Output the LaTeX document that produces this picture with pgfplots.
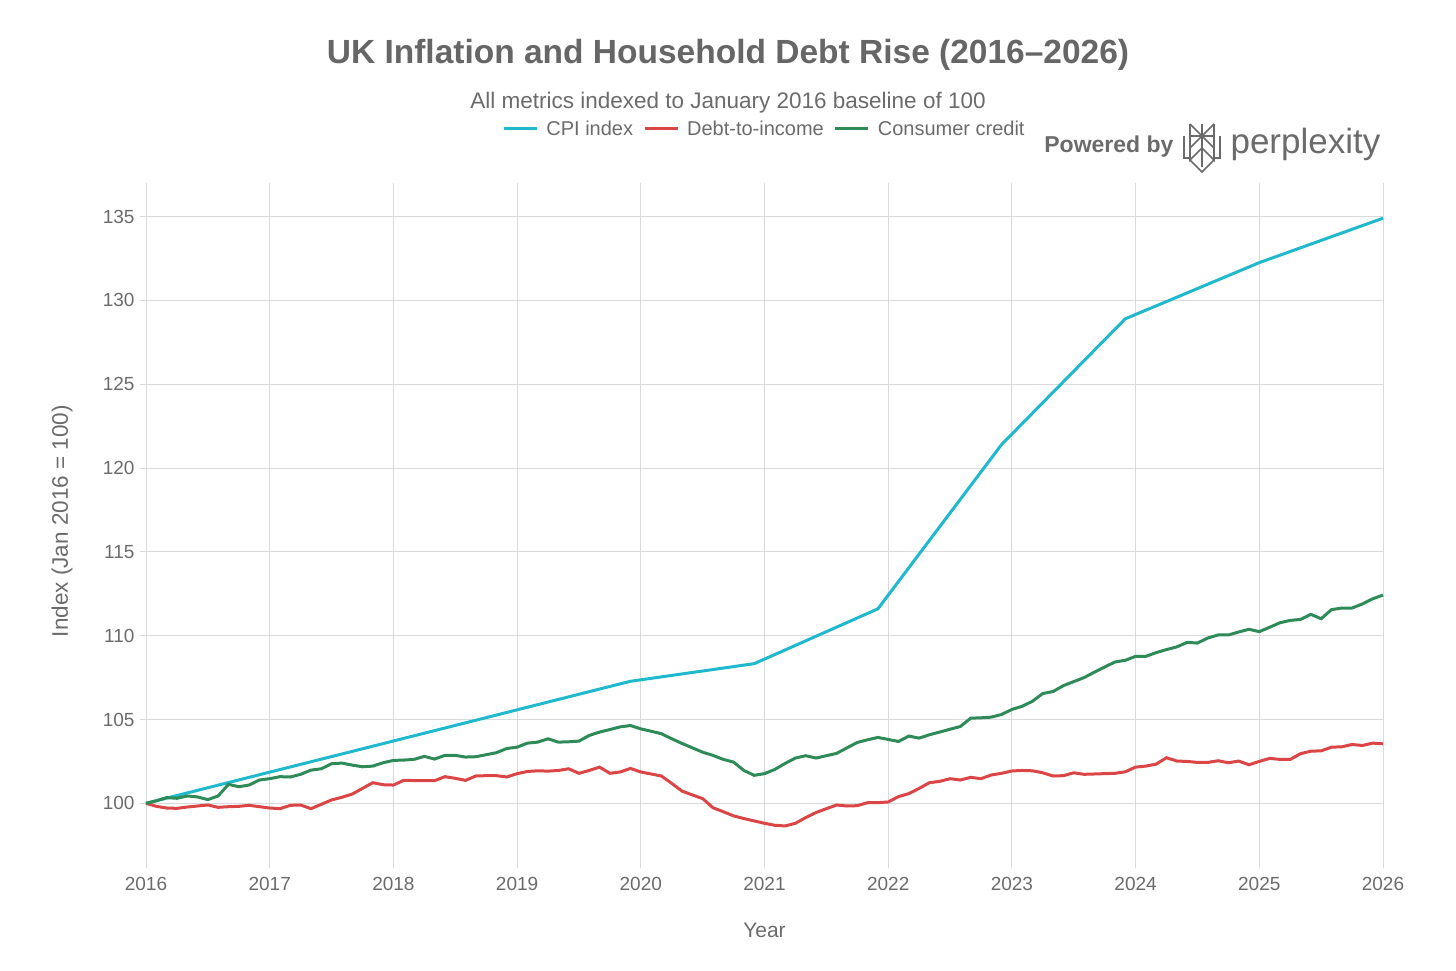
\documentclass[border=0pt]{standalone}
\usepackage{pgfplots}
\pgfplotsset{compat=1.18}
\usepackage{fontspec}
\setmainfont{Liberation Sans}
\definecolor{cpi}{HTML}{1FB8CD}
\definecolor{dti}{HTML}{DB4545}
\definecolor{ccr}{HTML}{2E8B57}
\definecolor{txt}{HTML}{6B6B6B}
\definecolor{ttl}{HTML}{666666}
\definecolor{grd}{HTML}{DADADA}
\begin{document}
\begin{tikzpicture}[x=1pt,y=1pt]
\path[use as bounding box] (0,0) rectangle (1456,970);
\begin{axis}[
  at={(146pt,108pt)}, anchor=south west,
  width=1237pt, height=679pt, scale only axis,
  xmin=0, xmax=120, ymin=96.5, ymax=137,
  xtick={0,12,...,120},
  xticklabels={2016,2017,2018,2019,2020,2021,2022,2023,2024,2025,2026},
  ytick={100,105,...,135},
  xtick pos=bottom, ytick pos=left,
  tick align=outside, major tick length=6pt,
  tick style={grd, line width=1pt},
  grid=major, grid style={grd, line width=1pt},
  axis line style={draw=none},
  /pgf/number format/assume math mode=true,
  ticklabel style={font=\fontsize{19}{22}\selectfont, text=txt},
  xticklabel style={yshift=-6pt},
  yticklabel style={xshift=-2pt},
  legend style={at={(0.5,1)}, anchor=center, yshift=54pt, draw=none, fill=none,
    legend columns=3, font=\fontsize{20}{23}\selectfont, text=txt,
    /tikz/every odd column/.append style={column sep=6pt},
    /tikz/every even column/.append style={column sep=8pt}},
  legend cell align=left,
  legend image code/.code={\draw[#1, line width=3pt] (0pt,0pt) -- (33pt,0pt);},
  clip=false,
]
\addplot[cpi, line width=3pt] coordinates {
(0,100.00) (47,107.28) (59,108.33) (71,111.60) (83,121.40) (95,128.90) (108,132.25) (120,134.90)
};
\addlegendentry{CPI index}
\addplot[dti, line width=3pt] coordinates {
(0,100.00) (1,99.82) (2,99.72) (3,99.70) (4,99.78) (5,99.84) (6,99.90) (7,99.76) (8,99.80) (9,99.82)
(10,99.88) (11,99.80) (12,99.72) (13,99.68) (14,99.88) (15,99.90) (16,99.68) (17,99.94) (18,100.20) (19,100.36)
(20,100.55) (21,100.89) (22,101.23) (23,101.11) (24,101.09) (25,101.37) (26,101.36) (27,101.36) (28,101.35) (29,101.59)
(30,101.49) (31,101.37) (32,101.63) (33,101.65) (34,101.65) (35,101.57) (36,101.77) (37,101.90) (38,101.94) (39,101.92)
(40,101.96) (41,102.06) (42,101.79) (43,101.96) (44,102.16) (45,101.79) (46,101.87) (47,102.08) (48,101.87) (49,101.75)
(50,101.63) (51,101.19) (52,100.73) (53,100.50) (54,100.28) (55,99.74) (56,99.50) (57,99.25) (58,99.09) (59,98.95)
(60,98.81) (61,98.69) (62,98.65) (63,98.81) (64,99.15) (65,99.45) (66,99.68) (67,99.90) (68,99.84) (69,99.86)
(70,100.04) (71,100.04) (72,100.08) (73,100.40) (74,100.58) (75,100.89) (76,101.23) (77,101.31) (78,101.47) (79,101.39)
(80,101.55) (81,101.47) (82,101.69) (83,101.79) (84,101.93) (85,101.96) (86,101.94) (87,101.82) (88,101.63) (89,101.65)
(90,101.82) (91,101.73) (92,101.75) (93,101.77) (94,101.79) (95,101.88) (96,102.16) (97,102.22) (98,102.34) (99,102.72)
(100,102.52) (101,102.50) (102,102.44) (103,102.44) (104,102.54) (105,102.42) (106,102.52) (107,102.30) (108,102.50) (109,102.68)
(110,102.62) (111,102.62) (112,102.96) (113,103.11) (114,103.13) (115,103.35) (116,103.37) (117,103.51) (118,103.45) (119,103.59)
(120,103.55)
};
\addlegendentry{Debt-to-income}
\addplot[ccr, line width=3pt] coordinates {
(0,100.00) (1,100.15) (2,100.34) (3,100.30) (4,100.44) (5,100.38) (6,100.22) (7,100.44) (8,101.13) (9,100.99)
(10,101.09) (11,101.39) (12,101.47) (13,101.59) (14,101.57) (15,101.73) (16,101.98) (17,102.06) (18,102.36) (19,102.40)
(20,102.28) (21,102.18) (22,102.22) (23,102.42) (24,102.56) (25,102.58) (26,102.62) (27,102.80) (28,102.64) (29,102.86)
(30,102.86) (31,102.76) (32,102.78) (33,102.90) (34,103.02) (35,103.27) (36,103.35) (37,103.59) (38,103.65) (39,103.85)
(40,103.65) (41,103.67) (42,103.71) (43,104.05) (44,104.25) (45,104.40) (46,104.56) (47,104.64) (48,104.44) (49,104.30)
(50,104.15) (51,103.85) (52,103.57) (53,103.31) (54,103.05) (55,102.86) (56,102.62) (57,102.46) (58,101.96) (59,101.67)
(60,101.77) (61,102.02) (62,102.38) (63,102.70) (64,102.84) (65,102.70) (66,102.84) (67,102.98) (68,103.31) (69,103.63)
(70,103.79) (71,103.93) (72,103.81) (73,103.69) (74,104.01) (75,103.89) (76,104.09) (77,104.25) (78,104.42) (79,104.58)
(80,105.08) (81,105.10) (82,105.14) (83,105.30) (84,105.60) (85,105.79) (86,106.09) (87,106.55) (88,106.67) (89,107.02)
(90,107.26) (91,107.50) (92,107.82) (93,108.13) (94,108.43) (95,108.53) (96,108.77) (97,108.77) (98,108.99) (99,109.17)
(100,109.33) (101,109.60) (102,109.56) (103,109.86) (104,110.04) (105,110.04) (106,110.22) (107,110.38) (108,110.24) (109,110.50)
(110,110.77) (111,110.91) (112,110.97) (113,111.27) (114,111.01) (115,111.55) (116,111.65) (117,111.65) (118,111.89) (119,112.20)
(120,112.42)
};
\addlegendentry{Consumer credit}
\end{axis}
% titles
\node[text=ttl, font=\fontsize{33.5}{38}\selectfont\bfseries] at (728,915) {UK Inflation and Household Debt Rise (2016–2026)};
\node[text=txt, font=\fontsize{22.5}{26}\selectfont] at (728,867) {All metrics indexed to January 2016 baseline of 100};
\node[text=txt, font=\fontsize{21}{25}\selectfont] at (764.5,40) {Year};
\node[text=txt, font=\fontsize{22.5}{26}\selectfont, rotate=90] at (62,449) {Index (Jan 2016 = 100)};
% logo
\node[text=txt, font=\fontsize{23}{27}\selectfont\bfseries, anchor=east] at (1177,823) {Powered by};
\node[text=txt, font=\fontsize{35}{39}\selectfont, anchor=west] at (1227,826) {perplexity};
\begin{scope}[draw=txt, line width=1.6pt, line join=miter]
\draw (1202,846) -- (1202,803);
\draw (1190,846) -- (1190,834) -- (1214,834) -- (1214,846);
\draw (1190,846) -- (1214,822);
\draw (1214,846) -- (1190,822);
\draw (1184,834) -- (1184,812) -- (1190,812);
\draw (1220,834) -- (1220,812) -- (1214,812);
\draw (1190,834) -- (1190,810) -- (1202,822) -- (1214,810) -- (1214,834);
\draw (1190,810) -- (1202,798) -- (1214,810);
\end{scope}
\end{tikzpicture}
\end{document}
